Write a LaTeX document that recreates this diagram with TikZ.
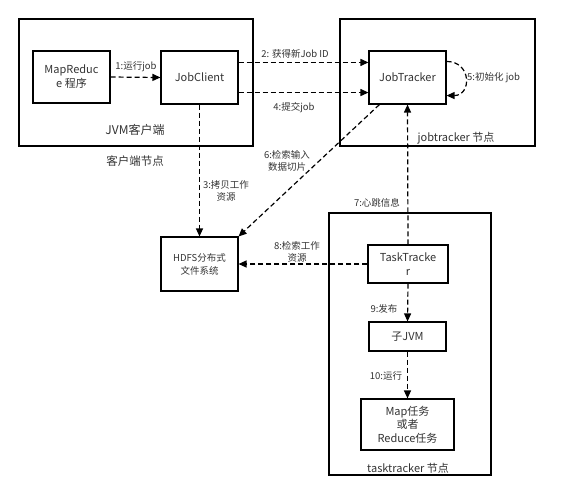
\documentclass[tikz,border=0pt]{standalone}
\usepackage{fontspec}
\setmainfont{Noto Sans CJK SC}
\usetikzlibrary{arrows.meta, positioning}
\definecolor{txtgray}{HTML}{333333}

\begin{document}
\begin{tikzpicture}[x=1pt, y=-1pt,
    box/.style={draw, line width=1.1pt, inner sep=0pt, align=center,
                text=txtgray, font=\fontsize{11}{14}\selectfont},
    hostbox/.style={draw, line width=1.1pt, inner sep=0pt},
    lbl/.style={text=txtgray, align=center, inner sep=1pt,
                font=\fontsize{9.5}{12}\selectfont},
    flow/.style={line width=1.2pt, dash pattern=on 5pt off 3pt,
                 -{Triangle[length=8pt, width=7pt]}}]
    \useasboundingbox (0,0) rectangle (569,500);

    % host machines
    \node[hostbox, minimum width=234pt, minimum height=127pt] (client) at (136,82.5) {};
    \node[hostbox, minimum width=195pt, minimum height=127pt] (jtnode) at (437.5,82.5) {};
    \node[hostbox, minimum width=162pt, minimum height=262pt] (ttnode) at (410,344) {};

    % processes
    \node[box, minimum width=77pt, minimum height=52pt] (mr) at (71.5,77) {MapReduc\\e 程序};
    \node[box, minimum width=77pt, minimum height=53pt] (jc) at (199.5,77.5) {JobClient};
    \node[box, minimum width=77pt, minimum height=53pt] (jt) at (407.5,77.5) {JobTracker};
    \node[box, minimum width=77pt, minimum height=54pt, font=\fontsize{9.5}{13}\selectfont] (hdfs) at (199.5,264) {HDFS分布式\\文件系统};
    \node[box, minimum width=80pt, minimum height=38pt] (tt) at (408,264) {TaskTracke\\r};
    \node[box, minimum width=77pt, minimum height=29pt] (jvm) at (407.5,336.5) {子JVM};
    \node[box, minimum width=93pt, minimum height=51pt, font=\fontsize{11}{13.5}\selectfont] (maptask) at (407.5,424.5) {Map任务\\或者\\Reduce任务};

    % host captions
    \node[lbl, font=\fontsize{12}{14}\selectfont] (clientjvm) at (135,130) {JVM客户端};
    \node[lbl, font=\fontsize{11.5}{14}\selectfont] (clientcap) at (135,161) {客户端节点};
    \node[lbl, font=\fontsize{11}{14}\selectfont] (jtcap) at (456,138) {jobtracker 节点};
    \node[lbl, font=\fontsize{11}{14}\selectfont] (ttcap) at (408,468) {tasktracker 节点};

    % steps
    \draw[flow] (mr.east) -- (jc.west);
    \draw[flow] ([yshift=-12pt]jc.north east) -- ([yshift=-12pt]jt.north west);
    \draw[flow] ([yshift=12pt]jc.south east) -- ([yshift=12pt]jt.south west);
    \draw[flow] (jc.south) -- (hdfs.north);
    \draw[flow] ([yshift=-11pt]jt.north east) to[out=0, in=0, looseness=1.9] ([yshift=9pt]jt.south east);
    \draw[flow] ([xshift=11pt]jt.south west) -- (hdfs.north east);
    \draw[flow] (tt.north) -- (jt.south);
    \draw[flow] (tt.west) -- (hdfs.east);
    \draw[flow] (tt.south) -- (jvm.north);
    \draw[flow] (jvm.south) -- (maptask.north);

    % step labels
    \node[lbl] (l1) at (136,67) {1:运行job};
    \node[lbl] (l2) at (295,54) {2: 获得新Job ID};
    \node[lbl] (l3) at (226,191) {3:拷贝工作\\资源};
    \node[lbl] (l4) at (294,108) {4:提交job};
    \node[lbl, anchor=west] (l5) at (466,78) {5:初始化 job};
    \node[lbl] (l6) at (287,161) {6:检索输入\\数据切片};
    \node[lbl] (l7) at (377,203) {7:心跳信息};
    \node[lbl] (l8) at (297,252) {8:检索工作\\资源};
    \node[lbl] (l9) at (384,309) {9:发布};
    \node[lbl] (l10) at (386,376) {10:运行};
\end{tikzpicture}
\end{document}
